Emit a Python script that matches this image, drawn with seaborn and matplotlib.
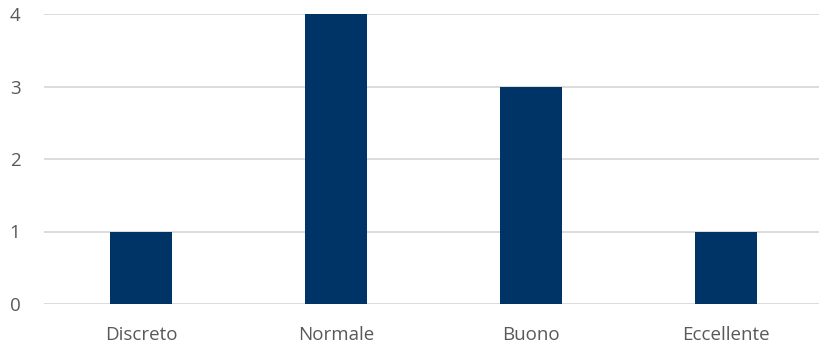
import matplotlib
matplotlib.use("Agg")
import matplotlib.pyplot as plt
import seaborn as sns
import pandas as pd

categories = ["Discreto", "Normale", "Buono", "Eccellente"]
counts = [1, 4, 3, 1]
y_ticks = [0, 1, 2, 3, 4]

sns.set_theme(style="white")
plt.rcParams["font.family"] = ["Open Sans", "DejaVu Sans"]

df = pd.DataFrame({"giudizio": categories, "conteggio": counts})

fig = plt.figure(figsize=(8.19, 3.51), dpi=100)
ax = fig.add_axes([44 / 819, 1 - 304 / 351, 775 / 819, 290 / 351])

ax.set_axisbelow(True)
for t in y_ticks:
    ax.axhline(t, color="#d9d9d9", linewidth=1.3, zorder=0)

sns.barplot(data=df, x="giudizio", y="conteggio", color="#003366",
            width=0.318, saturation=1, linewidth=0, ax=ax, zorder=2)

ax.set_xlim(-0.5, (819 - 141) / 195)
ax.set_ylim(0, 4)
ax.set_yticks(y_ticks)
ax.set_xlabel("")
ax.set_ylabel("")
for s in ax.spines.values():
    s.set_visible(False)
ax.tick_params(axis="both", length=0, labelsize=13.5, colors="#595959")
ax.tick_params(axis="y", pad=17)
ax.tick_params(axis="x", pad=16)

fig.savefig("out.png", dpi=100)
